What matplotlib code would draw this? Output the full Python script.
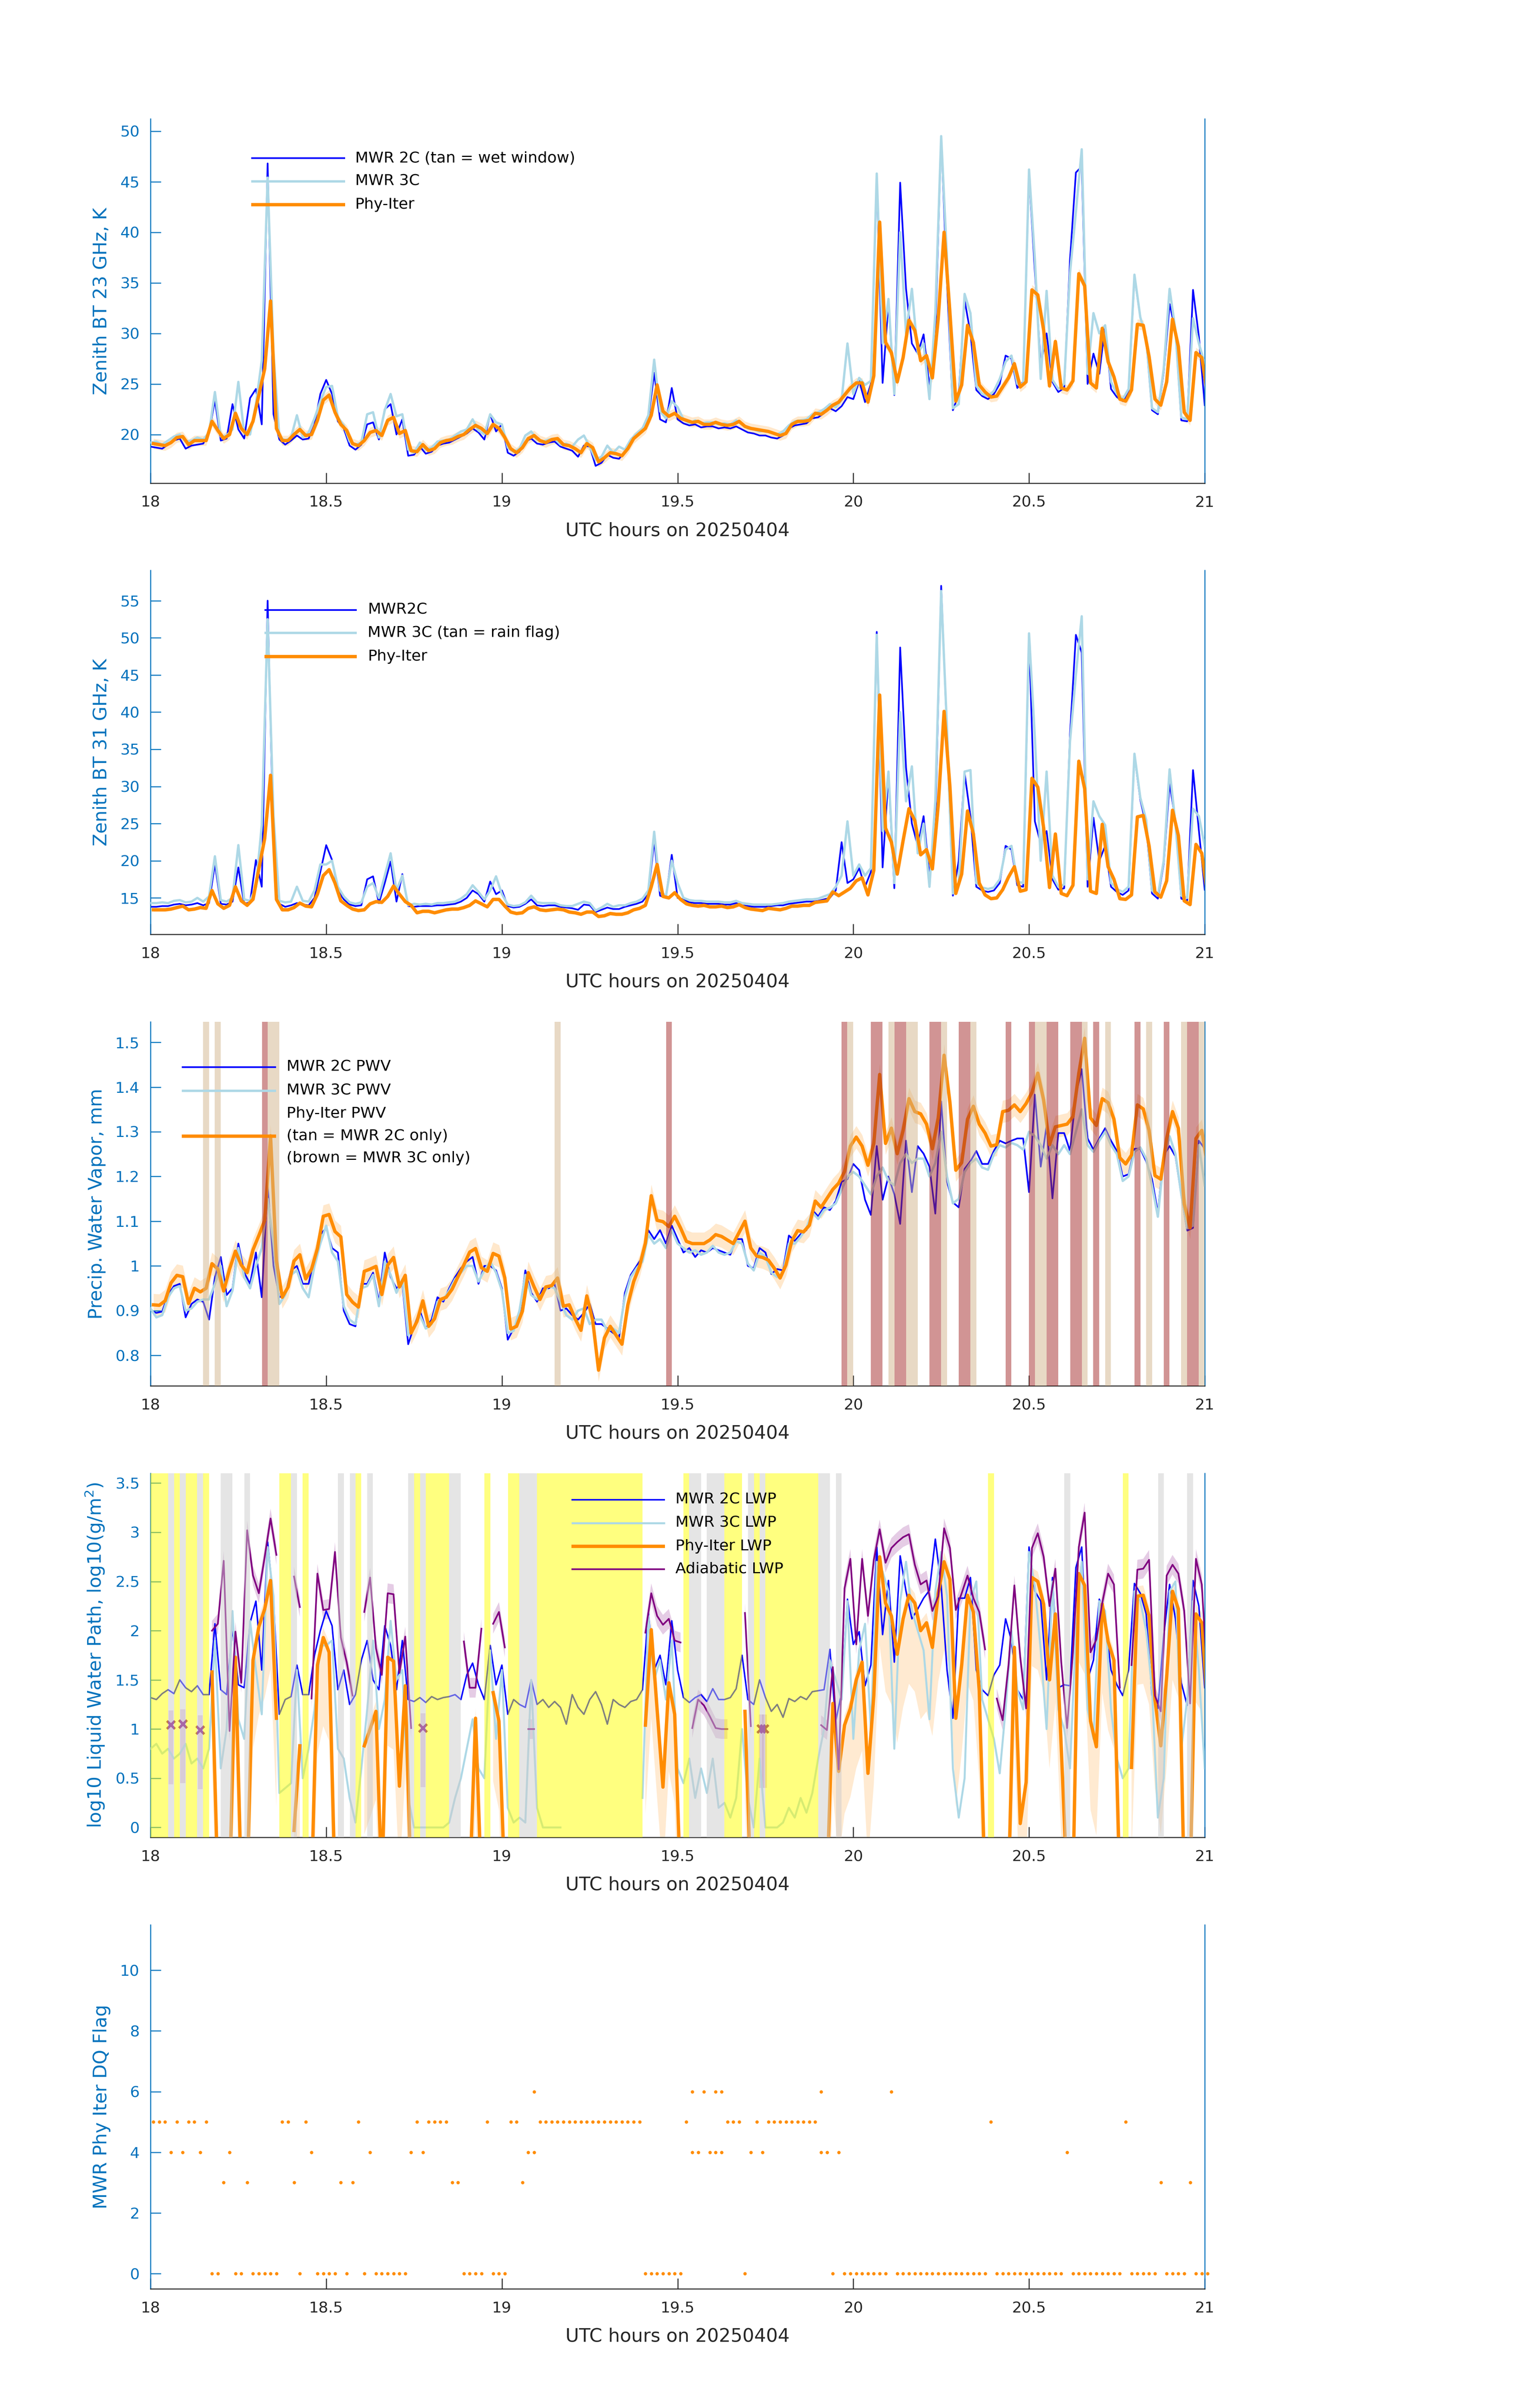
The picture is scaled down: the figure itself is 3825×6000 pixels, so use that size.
import numpy as np
import matplotlib
matplotlib.use("Agg")
import matplotlib.pyplot as plt
from matplotlib.lines import Line2D
from matplotlib.ticker import FuncFormatter

nan = np.nan

# ---- zenith brightness temperature, 23 GHz (K), one value per minute 18:00-21:00
bt23_2c = [18.8, 18.7, 18.6, 19.0, 19.4, 19.6, 18.6, 18.9, 19.0, 19.1,
           20.2, 23.4, 19.4, 19.6, 23.0, 20.5, 19.6, 23.6, 24.5, 21.0,
           46.8, 22.0, 19.5, 19.0, 19.4, 19.9, 19.5, 19.6, 21.0, 24.0,
           25.4, 24.0, 21.3, 20.6, 18.9, 18.5, 19.0, 21.0, 21.2, 19.5,
           22.5, 23.0, 20.0, 21.5, 17.9, 18.0, 18.8, 18.1, 18.3, 18.9,
           19.1, 19.2, 19.5, 19.8, 20.1, 20.6, 20.2, 19.5, 22.0, 20.3,
           21.0, 18.2, 17.9, 18.3, 19.3, 19.6, 19.1, 19.0, 19.2, 19.3,
           18.8, 18.6, 18.4, 17.8, 18.9, 18.8, 16.9, 17.2, 18.0, 17.7,
           17.6, 18.3, 19.3, 19.9, 20.3, 21.5, 26.1, 21.5, 21.2, 24.6,
           21.5, 21.1, 20.9, 21.0, 20.7, 20.8, 20.8, 20.6, 20.7, 20.6,
           20.8, 20.5, 20.2, 20.1, 19.9, 19.9, 19.7, 19.6, 19.9, 20.6,
           20.9, 21.0, 21.1, 21.6, 21.7, 22.1, 22.6, 22.3, 22.8, 23.7,
           23.5, 25.3, 23.2, 25.0, 45.7, 25.1, 33.0, 23.9, 44.9, 34.4,
           29.0, 28.0, 29.9, 24.7, 30.0, 49.5, 35.0, 22.4, 24.0, 33.3,
           30.0, 24.4, 23.8, 23.5, 24.0, 25.0, 27.8, 27.5, 24.6, 25.2,
           45.8, 36.1, 26.9, 30.0, 25.2, 24.2, 24.6, 37.3, 45.9, 46.5,
           25.0, 28.0, 26.0, 30.8, 24.5, 23.7, 23.3, 24.2, 35.6, 31.6,
           29.4, 22.4, 22.0, 26.2, 32.9, 30.3, 21.4, 21.3, 34.3, 29.7, 22.9]
bt23_3c = [19.2, 19.3, 19.0, 19.4, 19.8, 20.0, 19.3, 19.4, 19.7, 19.5,
           20.2, 24.2, 19.8, 19.9, 20.5, 25.2, 20.1, 20.0, 23.0, 27.3,
           45.4, 28.0, 19.8, 19.4, 19.7, 21.9, 19.7, 20.2, 21.6, 23.3,
           24.7, 24.8, 21.7, 20.9, 19.3, 19.0, 19.2, 22.0, 22.2, 19.7,
           22.4, 24.0, 21.8, 22.0, 18.5, 18.2, 19.2, 18.5, 18.7, 19.3,
           19.4, 19.5, 19.9, 20.3, 20.5, 21.5, 20.4, 20.0, 22.0, 21.2,
           21.0, 18.7, 18.3, 18.6, 19.9, 20.3, 19.5, 19.3, 19.5, 19.6,
           19.0, 19.1, 18.8, 19.5, 19.9, 18.8, 17.5, 17.8, 18.9, 18.2,
           18.8, 18.5, 19.5, 20.1, 20.6, 21.9, 27.4, 22.3, 21.6, 23.3,
           22.7, 21.5, 21.1, 21.4, 21.1, 21.2, 21.2, 21.0, 21.1, 21.0,
           21.4, 21.0, 20.6, 20.5, 20.3, 20.4, 20.2, 20.0, 20.3, 20.9,
           21.3, 21.4, 21.5, 22.0, 22.2, 22.5, 23.0, 22.7, 23.4, 29.0,
           24.0, 25.6, 24.9, 25.3, 45.8, 29.0, 33.4, 24.0, 40.0, 30.0,
           34.4, 28.0, 29.0, 23.5, 32.0, 49.5, 37.3, 22.6, 23.0, 33.9,
           32.0, 24.8, 24.0, 23.8, 24.3, 25.5, 27.2, 27.8, 25.0, 25.0,
           46.2, 37.3, 25.5, 34.2, 25.4, 24.5, 25.0, 36.0, 42.0, 48.2,
           26.0, 32.0, 30.0, 30.8, 25.2, 24.0, 23.5, 24.5, 35.8, 31.6,
           29.6, 22.6, 22.2, 26.5, 34.4, 30.3, 21.7, 21.5, 31.5, 29.0, 27.0]
bt23_phy = [19.1, 19.0, 18.9, 19.2, 19.7, 19.8, 19.0, 19.4, 19.4, 19.4,
            21.3, 20.4, 19.6, 20.0, 22.1, 20.6, 20.0, 21.3, 23.9, 26.5,
            33.2, 20.6, 19.4, 19.4, 20.0, 20.5, 19.9, 20.0, 21.4, 23.4,
            23.9, 22.2, 21.0, 20.4, 19.1, 18.9, 19.4, 20.2, 20.4, 19.9,
            21.4, 21.7, 20.1, 20.4, 18.4, 18.3, 19.0, 18.4, 18.6, 19.2,
            19.4, 19.5, 19.8, 20.0, 20.5, 20.9, 20.6, 20.1, 21.0, 20.6,
            19.7, 18.6, 18.2, 18.7, 19.6, 19.9, 19.4, 19.2, 19.5, 19.6,
            19.0, 18.9, 18.6, 18.2, 19.1, 18.7, 17.3, 17.7, 18.2, 18.1,
            17.9, 18.6, 19.6, 20.1, 20.6, 21.9, 24.9, 22.3, 21.8, 22.1,
            21.6, 21.4, 21.2, 21.3, 21.0, 21.0, 21.2, 21.0, 20.9, 21.0,
            21.3, 20.8, 20.6, 20.5, 20.4, 20.3, 20.1, 19.9, 20.1, 21.0,
            21.3, 21.3, 21.4, 22.1, 22.0, 22.4, 22.9, 23.2, 23.9, 24.6,
            25.1, 25.1, 23.2, 25.8, 41.0, 29.1, 28.1, 25.2, 27.6, 31.3,
            30.3, 27.3, 27.8, 25.6, 31.5, 40.0, 32.0, 23.3, 24.9, 30.8,
            29.1, 24.9, 24.2, 23.7, 23.8, 24.7, 25.6, 27.0, 24.7, 25.2,
            34.3, 33.8, 30.3, 24.8, 29.2, 24.6, 24.4, 25.3, 35.9, 34.7,
            25.1, 24.6, 30.5, 27.2, 25.7, 23.5, 23.3, 24.4, 30.9, 30.8,
            27.7, 23.5, 22.9, 25.2, 31.4, 28.7, 22.2, 21.4, 28.1, 27.6, 23.9]

# ---- zenith brightness temperature, 31 GHz (K)
bt31_2c = [13.8, 13.8, 13.9, 13.9, 14.1, 14.2, 14.0, 14.1, 14.3, 14.0,
           14.3, 19.6, 14.2, 14.1, 14.5, 19.1, 14.2, 14.4, 20.1, 16.5,
           55.0, 22.0, 14.2, 13.8, 14.0, 14.3, 14.1, 14.0, 15.0, 18.5,
           22.1, 20.1, 16.0, 14.8, 14.1, 13.9, 14.0, 17.5, 17.9, 14.3,
           17.0, 19.9, 14.5, 18.2, 13.9, 13.8, 13.9, 13.9, 13.9, 14.0,
           14.0, 14.1, 14.2, 14.5, 15.0, 16.0, 15.5, 14.5, 17.2, 15.5,
           16.0, 13.9, 13.7, 13.8, 14.2, 14.8, 14.0, 13.9, 14.0, 14.0,
           13.8, 13.7, 13.6, 13.4, 14.1, 14.0, 13.1, 13.4, 13.7, 13.5,
           13.5, 13.8, 14.0, 14.2, 14.5, 15.5, 22.7, 15.3, 15.0, 20.8,
           15.0, 14.8, 14.4, 14.3, 14.3, 14.2, 14.2, 14.2, 14.1, 14.1,
           14.3, 14.0, 13.9, 13.8, 13.8, 13.8, 13.9, 14.0, 14.0, 14.2,
           14.3, 14.4, 14.5, 14.5, 14.6, 14.8, 15.0, 16.0, 22.5, 17.0,
           17.5, 19.0, 16.5, 18.5, 50.8, 19.1, 31.5, 16.3, 48.7, 32.5,
           25.0, 22.0, 26.0, 17.9, 25.0, 57.0, 37.0, 15.3, 20.0, 31.8,
           26.0, 16.5, 16.0, 15.8, 16.0, 17.0, 22.0, 21.5, 16.7, 16.5,
           50.1, 25.3, 22.3, 24.0, 17.5, 16.1, 16.3, 37.0, 50.4, 48.0,
           16.5, 25.8, 20.0, 22.0, 16.5, 15.8, 15.4, 16.0, 34.2, 28.2,
           24.8, 15.6, 14.9, 19.6, 30.4, 25.4, 14.9, 14.6, 32.2, 24.1, 16.1]
bt31_3c = [14.3, 14.3, 14.4, 14.3, 14.6, 14.7, 14.4, 14.5, 15.0, 14.5,
           15.2, 20.6, 14.7, 14.5, 15.0, 22.1, 14.8, 14.6, 16.5, 24.8,
           52.5, 26.0, 14.6, 14.4, 14.5, 16.5, 14.6, 14.5, 16.0, 19.5,
           19.5, 20.0, 16.5, 15.2, 14.4, 14.2, 14.4, 16.5, 17.0, 15.0,
           18.0, 21.0, 16.0, 18.0, 14.0, 14.2, 14.1, 14.2, 14.1, 14.3,
           14.3, 14.4, 14.5, 14.9, 15.5, 16.7, 15.8, 14.8, 16.0, 17.9,
           15.5, 14.1, 13.9, 14.0, 14.4, 15.3, 14.4, 14.3, 14.3, 14.3,
           14.0, 13.9, 13.9, 14.2, 14.5, 14.3, 13.3, 13.7, 14.2, 13.8,
           14.0, 14.0, 14.3, 14.5, 14.9, 16.0, 23.9, 16.0, 15.2, 20.0,
           17.0, 15.0, 14.7, 14.6, 14.6, 14.5, 14.5, 14.5, 14.4, 14.4,
           14.6, 14.3, 14.2, 14.1, 14.1, 14.1, 14.1, 14.2, 14.3, 14.5,
           14.6, 14.7, 14.8, 14.8, 14.9, 15.2, 15.5, 16.5, 18.0, 25.3,
           18.0, 19.5, 18.0, 19.0, 50.4, 24.0, 32.0, 17.0, 40.0, 28.0,
           32.7, 21.0, 25.0, 16.5, 28.0, 56.3, 37.7, 15.6, 17.0, 32.0,
           32.2, 17.0, 16.4, 16.2, 16.4, 17.5, 21.5, 22.0, 17.2, 17.0,
           50.6, 36.5, 20.0, 32.0, 18.0, 16.5, 16.8, 36.1, 45.0, 52.9,
           17.5, 28.0, 26.0, 24.8, 17.0, 16.2, 15.8, 16.5, 34.4, 28.5,
           25.5, 16.0, 15.3, 20.0, 32.3, 25.0, 15.3, 15.0, 27.0, 26.0, 22.0]
bt31_phy = [13.4, 13.4, 13.4, 13.5, 13.7, 13.9, 13.4, 13.5, 13.7, 13.6,
            16.0, 14.2, 13.6, 14.0, 16.5, 14.6, 14.0, 14.8, 18.9, 23.0,
            31.5, 14.8, 13.4, 13.4, 13.7, 14.3, 13.9, 13.8, 15.5, 18.0,
            18.8, 17.0, 14.6, 14.0, 13.5, 13.3, 13.4, 14.2, 14.5, 14.4,
            15.2, 16.6, 15.5, 14.5, 14.0, 13.0, 13.2, 13.2, 13.0, 13.2,
            13.4, 13.5, 13.5, 13.7, 14.0, 14.6, 14.2, 13.8, 14.8, 14.8,
            13.9, 13.1, 12.9, 13.0, 13.6, 13.8, 13.4, 13.3, 13.4, 13.5,
            13.4, 13.1, 13.0, 12.8, 13.1, 13.1, 12.5, 12.6, 12.9, 12.8,
            12.8, 13.0, 13.4, 13.6, 14.0, 16.5, 19.5, 15.2, 15.0, 15.7,
            14.8, 14.2, 14.0, 13.9, 14.0, 13.8, 13.8, 13.9, 13.7, 13.8,
            14.1, 13.7, 13.5, 13.4, 13.3, 13.6, 13.5, 13.4, 13.6, 13.9,
            13.9, 14.0, 14.0, 14.4, 14.5, 14.6, 15.8, 15.3, 15.8, 16.3,
            17.3, 17.7, 15.4, 18.7, 42.3, 24.4, 22.5, 18.2, 22.7, 27.0,
            25.4, 20.8, 21.5, 18.9, 27.5, 40.1, 29.9, 15.6, 18.2, 26.7,
            23.6, 17.0, 15.4, 14.9, 15.0, 16.1, 17.8, 19.2, 15.9, 16.1,
            31.1, 29.9, 24.4, 16.4, 23.6, 15.6, 15.3, 16.7, 33.4, 29.7,
            15.9, 15.6, 24.9, 19.2, 17.5, 14.9, 14.8, 15.4, 25.9, 26.1,
            22.0, 15.8, 15.1, 17.3, 26.8, 23.4, 14.6, 14.1, 22.2, 21.0, 15.3]

# ---- precipitable water vapor (mm)
pwv_2c = [0.900, 0.895, 0.898, 0.935, 0.955, 0.960, 0.885, 0.915, 0.925, 0.920,
          0.880, 0.975, 1.020, 0.935, 0.950, 1.050, 0.985, 0.960, 1.030, 0.930,
          1.180, 1.000, 0.930, 0.935, 0.990, 1.000, 0.960, 0.960, 1.020, 1.070,
          1.085, 1.040, 1.030, 0.900, 0.870, 0.865, 0.960, 0.960, 0.985, 0.920,
          1.030, 0.975, 0.950, 0.960, 0.825, 0.865, 0.900, 0.860, 0.880, 0.930,
          0.920, 0.950, 0.975, 0.995, 1.010, 1.020, 0.960, 1.000, 1.000, 0.990,
          0.950, 0.835, 0.860, 0.890, 0.990, 0.940, 0.920, 0.950, 0.950, 0.960,
          0.900, 0.905, 0.890, 0.880, 0.895, 0.915, 0.870, 0.870, 0.860, 0.850,
          0.840, 0.940, 0.980, 1.000, 1.020, 1.080, 1.060, 1.080, 1.050, 1.090,
          1.060, 1.030, 1.040, 1.020, 1.035, 1.030, 1.040, 1.035, 1.030, 1.025,
          1.060, 1.060, 1.000, 0.995, 1.040, 1.030, 0.982, 0.993, 0.990, 1.068,
          1.056, 1.071, 1.080, 1.125, 1.111, 1.131, 1.125, 1.145, 1.188, 1.194,
          1.228, 1.214, 1.148, 1.114, 1.268, 1.148, 1.200, 1.160, 1.094, 1.280,
          1.165, 1.268, 1.251, 1.222, 1.117, 1.368, 1.188, 1.142, 1.131, 1.217,
          1.234, 1.257, 1.228, 1.228, 1.257, 1.280, 1.274, 1.280, 1.285, 1.285,
          1.165, 1.383, 1.222, 1.314, 1.151, 1.297, 1.297, 1.257, 1.383, 1.440,
          1.285, 1.260, 1.285, 1.308, 1.280, 1.257, 1.200, 1.205, 1.262, 1.262,
          1.234, 1.194, 1.119, 1.248, 1.268, 1.245, 1.159, 1.079, 1.085, 1.280, 1.262]
pwv_3c = [0.905, 0.885, 0.890, 0.930, 0.950, 0.955, 0.900, 0.905, 0.920, 0.925,
          0.925, 0.960, 1.000, 0.910, 0.945, 1.040, 0.975, 0.950, 1.000, 1.040,
          1.150, 1.050, 0.915, 0.935, 0.980, 0.990, 0.950, 0.930, 1.000, 1.050,
          1.090, 1.030, 1.010, 0.910, 0.880, 0.870, 0.950, 0.955, 0.980, 0.910,
          1.010, 0.980, 0.940, 0.970, 0.845, 0.860, 0.890, 0.860, 0.870, 0.920,
          0.925, 0.945, 0.970, 0.985, 1.000, 1.000, 0.965, 0.990, 1.010, 0.985,
          0.945, 0.850, 0.855, 0.900, 0.980, 0.935, 0.925, 0.940, 0.955, 0.950,
          0.920, 0.890, 0.880, 0.900, 0.905, 0.870, 0.880, 0.880, 0.855, 0.860,
          0.850, 0.930, 0.975, 0.995, 1.010, 1.070, 1.050, 1.060, 1.040, 1.080,
          1.050, 1.040, 1.030, 1.035, 1.025, 1.030, 1.045, 1.030, 1.025, 1.030,
          1.055, 1.050, 1.005, 0.990, 1.030, 1.020, 0.985, 0.975, 0.985, 1.050,
          1.050, 1.065, 1.085, 1.120, 1.105, 1.125, 1.130, 1.140, 1.170, 1.200,
          1.210, 1.200, 1.180, 1.160, 1.200, 1.220, 1.190, 1.180, 1.230, 1.250,
          1.230, 1.240, 1.240, 1.200, 1.230, 1.300, 1.200, 1.140, 1.150, 1.210,
          1.230, 1.240, 1.220, 1.215, 1.250, 1.270, 1.265, 1.275, 1.270, 1.260,
          1.300, 1.290, 1.270, 1.240, 1.270, 1.250, 1.270, 1.250, 1.300, 1.350,
          1.270, 1.255, 1.280, 1.300, 1.270, 1.250, 1.190, 1.200, 1.255, 1.265,
          1.240, 1.180, 1.110, 1.240, 1.290, 1.250, 1.160, 1.085, 1.090, 1.270, 1.180]
pwv_phy = [0.913, 0.912, 0.922, 0.962, 0.979, 0.976, 0.916, 0.950, 0.942, 0.950,
           1.005, 0.993, 0.944, 0.993, 1.033, 1.002, 0.985, 1.036, 1.068, 1.102,
           1.291, 1.011, 0.930, 0.953, 1.011, 1.025, 0.971, 0.993, 1.039, 1.111,
           1.115, 1.077, 1.065, 0.936, 0.919, 0.908, 0.988, 0.993, 0.999, 0.936,
           1.002, 1.019, 0.953, 0.979, 0.850, 0.876, 0.922, 0.865, 0.882, 0.925,
           0.930, 0.948, 0.976, 1.002, 1.031, 1.039, 0.996, 0.988, 1.028, 1.022,
           0.973, 0.859, 0.865, 0.899, 0.985, 0.953, 0.925, 0.953, 0.956, 0.973,
           0.910, 0.913, 0.882, 0.856, 0.933, 0.879, 0.767, 0.839, 0.865, 0.845,
           0.825, 0.913, 0.965, 0.999, 1.051, 1.157, 1.102, 1.099, 1.088, 1.111,
           1.085, 1.055, 1.050, 1.050, 1.050, 1.058, 1.070, 1.066, 1.058, 1.050,
           1.075, 1.100, 1.040, 1.022, 1.019, 1.013, 0.995, 0.973, 1.002, 1.056,
           1.079, 1.076, 1.091, 1.145, 1.131, 1.151, 1.171, 1.185, 1.211, 1.268,
           1.288, 1.268, 1.225, 1.274, 1.428, 1.274, 1.308, 1.251, 1.303, 1.374,
           1.345, 1.340, 1.317, 1.262, 1.331, 1.471, 1.365, 1.214, 1.231, 1.328,
           1.357, 1.317, 1.297, 1.268, 1.271, 1.345, 1.348, 1.360, 1.345, 1.363,
           1.388, 1.431, 1.371, 1.271, 1.311, 1.314, 1.317, 1.334, 1.431, 1.509,
           1.331, 1.314, 1.374, 1.365, 1.328, 1.242, 1.228, 1.248, 1.360, 1.351,
           1.303, 1.202, 1.194, 1.285, 1.345, 1.308, 1.139, 1.085, 1.285, 1.303, 1.222]

# flagged minutes (start, end) in UTC hours
tan_pwv = [(18.150, 18.167), (18.183, 18.200), (18.333, 18.367), (19.150, 19.167),
           (19.983, 20.000), (20.100, 20.117), (20.150, 20.183), (20.250, 20.267),
           (20.333, 20.350), (20.517, 20.550), (20.650, 20.667), (20.717, 20.733),
           (20.833, 20.850), (20.933, 20.950), (20.983, 21.000)]
brown_pwv = [(18.317, 18.333), (19.467, 19.483), (19.967, 19.983), (20.050, 20.083),
             (20.117, 20.150), (20.217, 20.250), (20.300, 20.333), (20.433, 20.450),
             (20.500, 20.517), (20.550, 20.583), (20.617, 20.650), (20.683, 20.700),
             (20.800, 20.817), (20.883, 20.900), (20.950, 20.983)]

# ---- log10 liquid water path
lwp_2c = [1.32, 1.30, 1.36, 1.40, 1.36, 1.50, 1.42, 1.38, 1.44, 1.35,
          1.35, 2.07, 1.40, 1.35, 2.03, 1.45, 1.42, 2.08, 2.30, 1.60,
          2.90, 2.30, 1.15, 1.30, 1.33, 1.65, 1.35, 1.35, 1.75, 2.00,
          2.20, 2.05, 1.40, 1.60, 1.25, 1.35, 1.70, 1.90, 1.50, 1.40,
          2.05, 1.85, 1.40, 1.90, 1.30, 1.28, 1.32, 1.27, 1.33, 1.30,
          1.32, 1.33, 1.35, 1.30, 1.55, 1.67, 1.45, 1.30, 1.85, 1.45,
          1.65, 1.15, 1.30, 1.25, 1.22, 1.50, 1.25, 1.30, 1.22, 1.28,
          1.22, 1.05, 1.35, 1.22, 1.15, 1.30, 1.38, 1.25, 1.05, 1.30,
          1.25, 1.22, 1.28, 1.30, 1.40, 2.18, 1.60, 1.75, 1.45, 2.10,
          1.60, 1.32, 1.27, 1.32, 1.35, 1.28, 1.41, 1.30, 1.30, 1.32,
          1.41, 1.75, 1.30, 1.25, 1.50, 1.32, 1.18, 1.25, 1.12, 1.31,
          1.28, 1.33, 1.30, 1.38, 1.39, 1.40, 1.81, 1.08, 1.37, 2.32,
          1.86, 1.99, 1.44, 1.65, 2.85, 1.96, 2.51, 1.68, 2.76, 2.40,
          2.12, 2.22, 2.33, 2.41, 2.93, 2.46, 1.60, 1.11, 2.33, 2.33,
          2.54, 1.60, 1.40, 1.34, 1.55, 1.65, 2.12, 1.90, 1.40, 1.30,
          2.85, 2.40, 2.30, 1.50, 2.54, 1.42, 1.45, 1.44, 2.64, 2.85,
          1.50, 1.70, 2.32, 2.12, 1.60, 1.45, 1.34, 1.60, 2.48, 2.38,
          2.17, 1.34, 1.21, 1.95, 2.47, 2.12, 1.47, 1.24, 2.51, 2.25, 1.42]
lwp_3c = [0.80, 0.85, 0.75, 0.80, 0.70, 0.75, 0.85, 0.65, 0.70, 0.60,
          0.80, 1.90, 0.60, 1.00, 2.20, 1.10, 0.90, 2.10, 1.60, 1.15,
          2.85, 2.35, 0.35, 0.40, 0.45, 1.60, 0.50, 0.80, 1.20, 1.85,
          1.85, 1.90, 0.80, 0.70, 0.30, 0.05, 0.60, 1.20, 1.90, 1.00,
          1.30, 2.10, 1.50, 1.60, 0.30, 0.00, 0.00, 0.00, 0.00, 0.00,
          0.00, 0.05, 0.30, 0.50, 0.80, 1.10, 0.60, 0.50, 1.80, 0.90,
          1.60, 0.20, 0.05, 0.10, 0.05, 1.50, 0.20, 0.00, 0.00, 0.00,
          0.00, nan, nan, nan, nan, nan, nan, nan, nan, nan,
          nan, nan, nan, nan, 0.30, 2.15, 1.50, 1.70, 1.30, 1.90,
          0.60, 0.45, 0.70, 0.30, 0.60, 0.35, 0.70, 0.20, 0.25, 0.10,
          0.30, 1.00, 0.30, 0.00, 0.70, 0.00, 0.00, 0.00, 0.05, 0.20,
          0.10, 0.30, 0.15, 0.35, 0.70, 1.00, 1.70, 1.50, 1.30, 2.30,
          0.90, 1.80, 2.07, 1.00, 2.70, 2.60, 2.40, 0.80, 2.30, 2.70,
          2.20, 2.00, 1.80, 1.10, 2.40, 2.80, 2.35, 0.60, 0.10, 0.50,
          2.30, 2.50, 1.30, 1.10, 0.90, 0.55, 1.20, 2.00, 1.40, 1.20,
          2.80, 2.45, 1.80, 1.00, 2.50, 1.20, 1.00, 0.60, 2.00, 2.70,
          1.20, 0.90, 2.30, 2.20, 1.20, 0.70, 0.50, 0.60, 2.40, 2.30,
          2.00, 1.40, 0.10, 0.50, 2.40, 2.50, 0.80, 1.30, 2.30, 1.60, 0.60]
# values below the axis are near-zero retrievals (log10 -> strongly negative)
lwp_phy = [nan, nan, nan, nan, nan, nan, nan, nan, nan, nan,
           1.58, -0.6, nan, -0.6, 1.73, -0.6, -0.6, 1.70, 2.04, 2.22,
           2.51, 1.11, nan, nan, -0.03, 0.83, nan, -0.6, 1.65, 1.93,
           1.78, -0.6, nan, nan, nan, nan, 0.83, 1.00, 1.18, -0.6,
           1.73, 1.69, 0.42, 1.44, -0.6, nan, nan, nan, nan, nan,
           nan, nan, nan, nan, -0.6, 1.11, -0.6, nan, 1.37, 1.08,
           -0.6, nan, nan, nan, nan, nan, nan, nan, nan, nan,
           nan, nan, nan, nan, nan, nan, nan, nan, nan, nan,
           nan, nan, nan, nan, 1.04, 2.01, 1.20, 0.41, 1.47, 1.15,
           -0.6, nan, nan, nan, nan, nan, nan, nan, nan, nan,
           nan, 1.18, -0.6, nan, nan, nan, nan, nan, nan, nan,
           nan, nan, nan, nan, nan, -0.6, 1.26, 0.57, 1.04, 1.21,
           1.50, 1.68, 0.55, 1.34, 2.75, 2.28, 2.15, 1.76, 2.12, 2.36,
           2.28, 2.00, 2.08, 1.83, 2.38, 2.70, 2.52, 1.11, 1.65, 2.36,
           2.19, 1.39, -0.6, nan, nan, nan, -0.6, 1.83, 0.04, 0.46,
           2.54, 2.50, 2.27, 1.50, 2.17, 0.82, -0.6, -0.6, 2.58, 2.46,
           1.08, 0.82, 2.27, 1.89, 1.70, -0.6, nan, 0.61, 2.35, 2.36,
           2.15, 1.30, 0.83, 1.53, 2.40, 2.22, -0.6, -0.6, 2.17, 2.08, 1.21]
lwp_adiab = [nan, nan, nan, nan, nan, nan, nan, nan, nan, nan,
             2.00, 2.07, 2.71, 0.98, 1.99, 1.47, 3.02, 2.56, 2.38, 2.75,
             3.14, 2.77, nan, nan, 2.55, 2.24, nan, 1.31, 2.58, 2.21,
             2.22, 2.80, 1.93, 1.68, 1.34, nan, 2.19, 2.54, 1.82, 1.55,
             2.38, 2.37, 1.57, 1.94, 1.01, nan, nan, nan, nan, nan,
             nan, nan, nan, 1.89, 1.42, 1.42, 2.02, nan, 2.07, 2.19,
             1.83, nan, nan, nan, 1.00, 1.00, nan, nan, nan, nan,
             nan, nan, nan, nan, nan, nan, nan, nan, nan, nan,
             nan, nan, nan, nan, 1.98, 2.38, 2.15, 2.06, 2.12, 1.90,
             1.88, nan, 1.01, 1.30, 1.24, 1.13, 1.01, 1.00, 1.00, nan,
             nan, 2.18, 1.03, nan, nan, nan, nan, nan, nan, nan,
             nan, nan, nan, nan, 1.04, 0.99, 1.63, 0.59, 2.43, 2.73,
             1.86, 2.73, 2.15, 2.72, 3.03, 2.69, 2.84, 2.90, 2.95, 2.98,
             2.67, 2.47, 2.51, 2.20, 2.35, 3.04, 2.84, 2.21, 2.38, 2.56,
             2.33, 2.19, 1.81, nan, 1.31, 1.09, 1.65, 2.46, 1.73, 1.21,
             2.84, 2.99, 2.75, 2.25, 2.63, 1.68, 1.01, 1.78, 2.85, 3.20,
             1.78, 1.91, 2.28, 2.58, 2.47, 1.42, nan, 1.65, 2.62, 2.63,
             2.72, 1.34, 1.18, 2.56, 2.67, 2.58, 2.20, 1.26, 2.73, 2.47, 1.44]
adiab_pt_time = [18.058, 18.092, 18.142, 18.775, 19.738, 19.747]
adiab_pt_val = [1.04, 1.05, 0.99, 1.01, 1.00, 1.00]

yellow_lwp = [(18.000, 18.050), (18.067, 18.083), (18.100, 18.133), (18.150, 18.167),
              (18.367, 18.400), (18.433, 18.450), (18.583, 18.600), (18.750, 18.767),
              (18.783, 18.850), (18.950, 18.967), (19.017, 19.050), (19.100, 19.400),
              (19.517, 19.533), (19.633, 19.683), (19.717, 19.733), (19.750, 19.900),
              (20.383, 20.400), (20.767, 20.783)]
gray_lwp = [(18.050, 18.067), (18.083, 18.100), (18.133, 18.150), (18.200, 18.233),
            (18.267, 18.283), (18.400, 18.417), (18.533, 18.550), (18.567, 18.583),
            (18.617, 18.633), (18.733, 18.750), (18.767, 18.783), (18.850, 18.883),
            (19.050, 19.100), (19.533, 19.567), (19.583, 19.633), (19.700, 19.717),
            (19.733, 19.750), (19.900, 19.933), (19.950, 19.967), (20.600, 20.617),
            (20.867, 20.883), (20.950, 20.967)]

# ---- Phy-Iter data-quality flag
dq_flag = [5, 5, 5, 4, 5, 4, 5, 5, 4, 5,
           0, 0, 3, 4, 0, 0, 3, 0, 0, 0,
           0, 0, 5, 5, 3, 0, 5, 4, 0, 0,
           0, 0, 3, 0, 3, 5, 0, 4, 0, 0,
           0, 0, 0, 0, 4, 5, 4, 5, 5, 5,
           5, 3, 3, 0, 0, 0, 0, 5, 0, 0,
           0, 5, 5, 3, 4, 6, 5, 5, 5, 5,
           5, 5, 5, 5, 5, 5, 5, 5, 5, 5,
           5, 5, 5, 5, 0, 0, 0, 0, 0, 0,
           0, 5, 6, 4, 6, 4, 6, 6, 5, 5,
           5, 0, 4, 5, 4, 5, 5, 5, 5, 5,
           5, 5, 5, 5, 6, 4, 0, 4, 0, 0,
           0, 0, 0, 0, 0, 0, 6, 0, 0, 0,
           0, 0, 0, 0, 0, 0, 0, 0, 0, 0,
           0, 0, 0, 5, 0, 0, 0, 0, 0, 0,
           0, 0, 0, 0, 0, 0, 4, 0, 0, 0,
           0, 0, 0, 0, 0, 0, 5, 0, 0, 0,
           0, 0, 3, 0, 0, 0, 0, 3, 0, 0, 0]
dq_extra_idx = [65, 92, 96, 97, 114]
dq_extra_val = [4, 4, 4, 4, 4]

# uncertainty half-widths of the Phy-Iter retrieval
err_bt23 = 0.5
err_bt31 = 0.25
err_pwv = 0.025
err_adiab = 0.1

t_mwr = 18 + np.arange(181) / 60.0
t_phy = t_mwr + 0.5 / 60.0

AX_BLUE = '#0072BD'
DARK = '#262626'
C_2C = '#0000FF'
C_3C = '#ADD8E6'
C_PHY = '#FF8C00'
C_ADIA = '#800080'

plt.rcParams['font.family'] = 'DejaVu Sans'

fig = plt.figure(figsize=(12.75, 20), dpi=300)
left, width, height = 0.09804, 0.68680, 0.1512
bottoms = [0.7994, 0.6120, 0.4245, 0.2370, 0.0495]
axes = [fig.add_axes([left, b, width, height]) for b in bottoms]

fmt = FuncFormatter(lambda v, p: f"{v:g}")


def style_axes(ax, ylim, yticks, ylabel):
    ax.set_xlim(18, 21)
    ax.set_ylim(*ylim)
    ax.set_xticks([18, 18.5, 19, 19.5, 20, 20.5, 21])
    ax.set_yticks(yticks)
    ax.xaxis.set_major_formatter(fmt)
    ax.yaxis.set_major_formatter(fmt)
    ax.spines['top'].set_visible(False)
    for s in ('left', 'right'):
        ax.spines[s].set_color(AX_BLUE)
        ax.spines[s].set_linewidth(0.6)
    ax.spines['bottom'].set_color(DARK)
    ax.spines['bottom'].set_linewidth(0.6)
    ax.tick_params(axis='x', direction='in', length=6.3, width=0.6,
                   colors=DARK, labelsize=9.2, pad=7.5, top=False)
    ax.tick_params(axis='y', direction='in', length=6.3, width=0.6,
                   colors=AX_BLUE, labelsize=9.2, pad=6.5, right=False)
    ax.set_xlabel('UTC hours on 20250404', fontsize=11.1, color=DARK, labelpad=7.0)
    ax.set_ylabel(ylabel, fontsize=11.1, color=AX_BLUE, labelpad=5.5)


def add_legend(ax, x0, x1, xt, rows):
    for y, color, lw, text in rows:
        if color is not None:
            ax.add_artist(Line2D([x0, x1], [y, y], color=color, lw=lw,
                                 transform=ax.transAxes, zorder=10,
                                 solid_capstyle='butt'))
        if text:
            ax.text(xt, y, text, transform=ax.transAxes, fontsize=9.2,
                    va='center', ha='left', color='black', zorder=10)


def draw_bands(ax, bands, color):
    for a, b in bands:
        ax.axvspan(a, b, color=color, alpha=0.5, lw=0, zorder=5)


# panel 1: 23 GHz
ax = axes[0]
p = np.array(bt23_phy)
ax.fill_between(t_phy, p - err_bt23, p + err_bt23, color=C_PHY, alpha=0.2, lw=0, zorder=1)
ax.plot(t_mwr, bt23_2c, color=C_2C, lw=1.0, zorder=2)
ax.plot(t_mwr, bt23_3c, color=C_3C, lw=1.4, zorder=3)
ax.plot(t_phy, p, color=C_PHY, lw=2.0, zorder=4)
style_axes(ax, (15.2, 51.2), [20, 25, 30, 35, 40, 45, 50], 'Zenith BT 23 GHz, K')
add_legend(ax, 0.0955, 0.1846, 0.1940, [
    (0.892, C_2C, 1.0, 'MWR 2C (tan = wet window)'),
    (0.829, C_3C, 1.4, 'MWR 3C'),
    (0.765, C_PHY, 2.0, 'Phy-Iter')])

# panel 2: 31 GHz
ax = axes[1]
p = np.array(bt31_phy)
ax.fill_between(t_phy, p - err_bt31, p + err_bt31, color=C_PHY, alpha=0.2, lw=0, zorder=1)
ax.plot(t_mwr, bt31_2c, color=C_2C, lw=1.0, zorder=2)
ax.plot(t_mwr, bt31_3c, color=C_3C, lw=1.4, zorder=3)
ax.plot(t_phy, p, color=C_PHY, lw=2.0, zorder=4)
style_axes(ax, (10.1, 59.1), [15, 20, 25, 30, 35, 40, 45, 50, 55], 'Zenith BT 31 GHz, K')
add_legend(ax, 0.1081, 0.1957, 0.2060, [
    (0.891, C_2C, 1.0, 'MWR2C'),
    (0.828, C_3C, 1.4, 'MWR 3C (tan = rain flag)'),
    (0.763, C_PHY, 2.0, 'Phy-Iter')])

# panel 3: PWV
ax = axes[2]
p = np.array(pwv_phy)
ax.fill_between(t_phy, p - err_pwv, p + err_pwv, color=C_PHY, alpha=0.2, lw=0, zorder=1)
ax.plot(t_mwr, pwv_2c, color=C_2C, lw=1.0, zorder=2)
ax.plot(t_mwr, pwv_3c, color=C_3C, lw=1.4, zorder=3)
ax.plot(t_phy, p, color=C_PHY, lw=2.0, zorder=4)
draw_bands(ax, tan_pwv, '#D2B48C')
draw_bands(ax, brown_pwv, '#A52A2A')
style_axes(ax, (0.732, 1.546), [0.8, 0.9, 1.0, 1.1, 1.2, 1.3, 1.4, 1.5],
           'Precip. Water Vapor, mm')
add_legend(ax, 0.0297, 0.1191, 0.1290, [
    (0.8754, C_2C, 1.0, 'MWR 2C PWV'),
    (0.8103, C_3C, 1.4, 'MWR 3C PWV'),
    (0.7469, None, 0, 'Phy-Iter PWV'),
    (0.6851, C_PHY, 2.0, '(tan = MWR 2C only)'),
    (0.6251, None, 0, '(brown = MWR 3C only)')])

# panel 4: LWP
ax = axes[3]
p = np.array(lwp_phy)
ad = np.array(lwp_adiab)
ax.fill_between(t_phy, p - 0.9, p + 0.1, color=C_PHY, alpha=0.18, lw=0, zorder=1)
ax.fill_between(t_phy, ad - err_adiab, ad + err_adiab, color=C_ADIA, alpha=0.2, lw=0, zorder=1)
for tp, vp in zip(adiab_pt_time, adiab_pt_val):
    ax.fill_between([tp - 0.007, tp + 0.007], [vp - 0.6] * 2, [vp + 0.15] * 2,
                    color=C_ADIA, alpha=0.2, lw=0, zorder=1)
ax.plot(t_mwr, lwp_2c, color=C_2C, lw=0.9, zorder=2)
ax.plot(t_mwr, lwp_3c, color=C_3C, lw=1.2, zorder=3)
ax.plot(t_phy, p, color=C_PHY, lw=2.0, zorder=4)
ax.plot(t_phy, ad, color=C_ADIA, lw=1.0, zorder=4)
ax.plot(adiab_pt_time, adiab_pt_val, ls='none', marker='x', ms=5, mew=1.5,
        color=C_ADIA, zorder=4)
draw_bands(ax, yellow_lwp, '#FFFF00')
draw_bands(ax, gray_lwp, '#CCCCCC')
style_axes(ax, (-0.1, 3.6), [0, 0.5, 1, 1.5, 2, 2.5, 3, 3.5],
           'log10 Liquid Water Path, log10(g/m$^{2}$)')
add_legend(ax, 0.3993, 0.4880, 0.4979, [
    (0.9272, C_2C, 0.9, 'MWR 2C LWP'),
    (0.8633, C_3C, 1.2, 'MWR 3C LWP'),
    (0.7993, C_PHY, 2.0, 'Phy-Iter LWP'),
    (0.7365, C_ADIA, 1.0, 'Adiabatic LWP')])

# panel 5: DQ flag
ax = axes[4]
ax.plot(t_phy, dq_flag, ls='none', marker='o', ms=2.0, mew=0, color=C_PHY, clip_on=False)
ax.plot(t_phy[dq_extra_idx], dq_extra_val, ls='none', marker='o', ms=2.0, mew=0,
        color=C_PHY, clip_on=False)
style_axes(ax, (-0.5, 11.5), [0, 2, 4, 6, 8, 10], 'MWR Phy Iter DQ Flag')

fig.savefig('out.png', dpi=300)
